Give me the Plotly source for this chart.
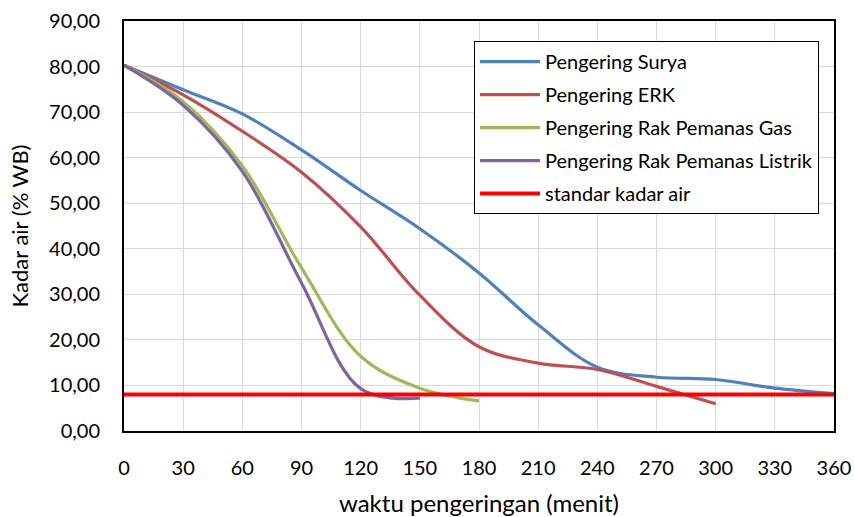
import plotly.graph_objects as go

# ---- data ----
t_surya = [0, 30, 60, 90, 120, 150, 180, 210, 240, 270, 300, 330, 360]
surya = [80.3, 74.9, 69.6, 61.7, 52.8, 44.4, 34.7, 23.3, 14.0, 11.8, 11.3, 9.4, 8.2]

t_erk = [0, 30, 60, 90, 120, 150, 180, 210, 240, 270, 300]
erk = [80.3, 73.8, 65.8, 56.8, 44.8, 29.8, 18.5, 14.9, 13.5, 9.8, 6.0]

t_gas = [0, 30, 60, 90, 120, 150, 180]
gas = [80.3, 72.3, 58.2, 35.8, 16.4, 9.4, 6.6]

t_listrik = [0, 30, 60, 90, 120, 150]
listrik = [80.3, 71.5, 57.0, 32.5, 9.3, 7.2]

t_standar = [0, 360]
standar = [8.0, 8.0]

names = ["Pengering Surya", "Pengering ERK", "Pengering Rak Pemanas Gas",
         "Pengering Rak Pemanas Listrik", "standar kadar air"]
colors = ["#4F81BD", "#C0504D", "#9BBB59", "#8064A2", "#FF0000"]

x_ticks = [0, 30, 60, 90, 120, 150, 180, 210, 240, 270, 300, 330, 360]
y_ticks = [0, 10, 20, 30, 40, 50, 60, 70, 80, 90]

FONT = "Lato"

fig = go.Figure()
series = [(t_surya, surya), (t_erk, erk), (t_gas, gas), (t_listrik, listrik)]
for i, (xs, ys) in enumerate(series):
    fig.add_trace(go.Scatter(x=xs, y=ys, mode="lines", name=names[i],
                             legendgroup=f"g{i}",
                             line=dict(color=colors[i], width=3.2, shape="spline")))
fig.add_trace(go.Scatter(x=t_standar, y=standar, mode="lines", name=names[4],
                         legendgroup="g4",
                         line=dict(color=colors[4], width=4)))

fig.update_layout(
    width=855, height=517,
    margin=dict(l=124, r=21, t=21, b=86),
    paper_bgcolor="white", plot_bgcolor="white",
    separators=",.",
    font=dict(family=FONT, size=20, color="black"),
    showlegend=True,
    legend=dict(
        x=0.493, y=0.951, xanchor="left", yanchor="top",
        bgcolor="white", bordercolor="black", borderwidth=1,
        font=dict(family=FONT, size=20, color="black"),
        tracegroupgap=4, itemwidth=60,
    ),
)
fig.update_xaxes(
    range=[0, 360], tickvals=x_ticks, ticks="", ticklabelstandoff=18,
    showgrid=True, gridcolor="#D9D9D9", gridwidth=1,
    showline=True, linecolor="black", linewidth=2, mirror=True,
    zeroline=False, automargin=False,
    tickfont=dict(family=FONT, size=20),
    title=dict(text="waktu pengeringan (menit)", font=dict(family=FONT, size=24), standoff=20),
)
fig.update_yaxes(
    range=[0, 90], tickvals=y_ticks, tickformat=".2f", ticks="", ticklabelstandoff=18,
    showgrid=True, gridcolor="#D9D9D9", gridwidth=1,
    showline=True, linecolor="black", linewidth=2, mirror=True,
    zeroline=False, automargin=False,
    tickfont=dict(family=FONT, size=20),
    title=dict(text="Kadar air (% WB)", font=dict(family=FONT, size=22), standoff=14),
)

fig.write_html("out.html")
